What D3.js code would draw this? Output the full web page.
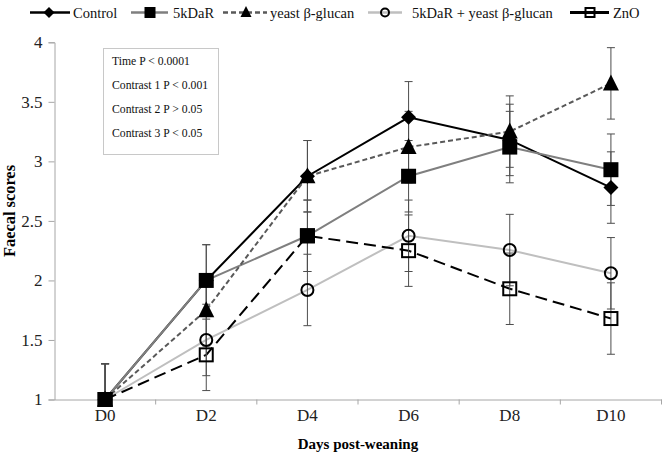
<!DOCTYPE html>
<html><head><meta charset="utf-8">
<script src="https://cdn.jsdelivr.net/npm/d3@7/dist/d3.min.js"></script>
<style>
body{margin:0;background:#fff;}
svg{display:block;}
text{font-family:"Liberation Serif","Times New Roman",serif;}
</style></head>
<body><svg id="c" width="666" height="453"></svg>
<script>
const categories = ["D0","D2","D4","D6","D8","D10"];
const seriesNames = ["Control","5kDaR","yeast \u03b2-glucan","5kDaR + yeast \u03b2-glucan","ZnO"];
const control = [1, 2.0, 2.875, 3.37, 3.18, 2.78];
const kdar    = [1, 2.0, 2.375, 2.875, 3.12, 2.93];
const yeast   = [1, 1.75, 2.875, 3.12, 3.25, 3.655];
const combo   = [1, 1.5, 1.92, 2.375, 2.255, 2.06];
const zno     = [1, 1.375, 2.375, 2.25, 1.93, 1.68];
const errControl = [0.3,0.3,0.3,0.3,0.3,0.3];
const errKdar    = [0.3,0.3,0.3,0.3,0.3,0.3];
const errYeast   = [0.3,0.3,0.3,0.3,0.3,0.3];
const errCombo   = [0.3,0.3,0.3,0.3,0.3,0.3];
const errZno     = [0.3,0.3,0.3,0.3,0.3,0.3];
const yTicks = [1,1.5,2,2.5,3,3.5,4];
const statsLines = ["Time P < 0.0001","Contrast 1 P < 0.001","Contrast 2 P > 0.05","Contrast 3 P < 0.05"];

const FONT = "Liberation Serif";
const styles = [
  {stroke:"#000", dash:null, marker:"diamond", fill:"#000", mstroke:"#000"},
  {stroke:"#7f7f7f", dash:null, marker:"square", fill:"#000", mstroke:"#000"},
  {stroke:"#595959", dash:"5,3", marker:"triangle", fill:"#000", mstroke:"#000"},
  {stroke:"#bfbfbf", dash:null, marker:"circle", fill:"none", mstroke:"#000"},
  {stroke:"#000", dash:"12,6", marker:"square", fill:"none", mstroke:"#000"}
];
const values = [control,kdar,yeast,combo,zno];
const errs = [errControl,errKdar,errYeast,errCombo,errZno];

const svg = d3.select("#c");
const L = 54.5, R = 661.5, T = 42.3, B = 399.5;
const x = d3.scaleBand().domain(categories).range([L,R]);
const xc = c => x(c) + x.bandwidth()/2;
const y = d3.scaleLinear().domain([1,4]).range([B,T]);

// axes
const yAx = svg.append("g").attr("transform",`translate(${L},0)`)
  .call(d3.axisLeft(y).tickValues(yTicks).tickFormat(d=>d).tickSize(6).tickPadding(6));
yAx.attr("font-family",FONT);
yAx.select(".domain").attr("stroke","#a6a6a6");
yAx.selectAll(".tick line").attr("stroke","#a6a6a6");
yAx.selectAll(".tick text").attr("font-size",17).attr("fill","#222").attr("font-family",FONT);

const xAx = svg.append("g").attr("transform",`translate(0,${B})`)
  .call(d3.axisBottom(x).tickSize(0).tickPadding(9));
xAx.attr("font-family",FONT);
xAx.select(".domain").attr("stroke","#a6a6a6");
xAx.selectAll(".tick text").attr("font-size",17).attr("fill","#222").attr("font-family",FONT);
svg.append("g").selectAll("line").data(categories.slice(1).concat([null])).join("line")
  .attr("x1",d=> d===null ? R : x(d)).attr("x2",d=> d===null ? R : x(d))
  .attr("y1",B).attr("y2",B+5).attr("stroke","#a6a6a6");

// titles
svg.append("text").attr("x",(L+R)/2).attr("y",449).attr("text-anchor","middle").attr("font-family",FONT)
  .attr("font-weight","bold").attr("font-size",15).text("Days post-weaning");
svg.append("text").attr("transform","translate(15,211) rotate(-90)").attr("text-anchor","middle").attr("font-family",FONT)
  .attr("font-weight","bold").attr("font-size",16).attr("textLength",92).attr("lengthAdjust","spacingAndGlyphs")
  .text("Faecal scores");

// clip
svg.append("clipPath").attr("id","pa").append("rect").attr("x",L).attr("y",T-10).attr("width",R-L).attr("height",B-T+10);

const line = d3.line().x((d,i)=>xc(categories[i])).y(d=>y(d));
values.forEach((v,s)=>{
  svg.append("path").attr("d",line(v)).attr("fill","none").attr("stroke",styles[s].stroke)
    .attr("stroke-width",2).attr("stroke-dasharray",styles[s].dash);
});

// error bars
const eg = svg.append("g").attr("clip-path","url(#pa)").attr("stroke","#4d4d4d").attr("stroke-width",1);
values.forEach((v,s)=>{
  v.forEach((d,i)=>{
    const cx = xc(categories[i]), e = errs[s][i];
    eg.append("line").attr("x1",cx).attr("x2",cx).attr("y1",y(d-e)).attr("y2",y(d+e));
    [d-e,d+e].forEach(t=>eg.append("line").attr("x1",cx-4).attr("x2",cx+4).attr("y1",y(t)).attr("y2",y(t)));
  });
});

function marker(g, type, cx, cy, sz, fill, stroke){
  if(type==="diamond"){
    const h=sz/2;
    g.append("path").attr("d",`M${cx},${cy-h}L${cx+h},${cy}L${cx},${cy+h}L${cx-h},${cy}Z`).attr("fill",fill);
  } else if(type==="square"){
    const h = fill==="none" ? sz/2-1 : sz/2;
    g.append("rect").attr("x",cx-h).attr("y",cy-h).attr("width",2*h).attr("height",2*h)
      .attr("fill",fill).attr("stroke",fill==="none"?stroke:null).attr("stroke-width",fill==="none"?2:null);
  } else if(type==="triangle"){
    const h=sz/2;
    g.append("path").attr("d",`M${cx},${cy-h-1}L${cx+h},${cy+h-1}L${cx-h},${cy+h-1}Z`).attr("fill",fill);
  } else if(type==="circle"){
    g.append("circle").attr("cx",cx).attr("cy",cy).attr("r",sz/2-1).attr("fill","none").attr("stroke",stroke).attr("stroke-width",2);
  }
}
const mg = svg.append("g");
const sizes = [15,15,16,14,15];
values.forEach((v,s)=>{
  v.forEach((d,i)=>marker(mg, styles[s].marker, xc(categories[i]), y(d), sizes[s], styles[s].fill, styles[s].mstroke));
});

// stats box
svg.append("rect").attr("x",103.5).attr("y",48.5).attr("width",115).attr("height",106)
  .attr("fill","#fff").attr("stroke","#c8c8c8");
svg.append("g").selectAll("text").data(statsLines).join("text").attr("font-family",FONT)
  .attr("x",112).attr("y",(d,i)=>64.5+i*24.2).attr("font-size",11.7).attr("fill","#111").text(d=>d);

// legend
const legLayout = [
  {x1:30,x2:70,mx:49,tx:73},
  {x1:131,x2:168,mx:150,tx:173},
  {x1:223,x2:267,mx:246,tx:270},
  {x1:368,x2:402,mx:385,tx:412},
  {x1:570,x2:609,mx:590,tx:613}
];
const ly = 12.5;
const lg = svg.append("g");
seriesNames.forEach((n,s)=>{
  const p = legLayout[s], st = styles[s];
  lg.append("line").attr("x1",p.x1).attr("x2",p.x2).attr("y1",ly).attr("y2",ly)
    .attr("stroke",st.stroke).attr("stroke-width",s===4?3:2.5)
    .attr("stroke-dasharray", s===2 ? "5,3" : null);
  marker(lg, st.marker, p.mx, ly, s===3?10:11, st.fill, st.mstroke);
  lg.append("text").attr("x",p.tx).attr("y",ly+5).attr("font-family",FONT).attr("font-size",14.5).attr("fill","#111").text(n);
});
</script></body></html>
